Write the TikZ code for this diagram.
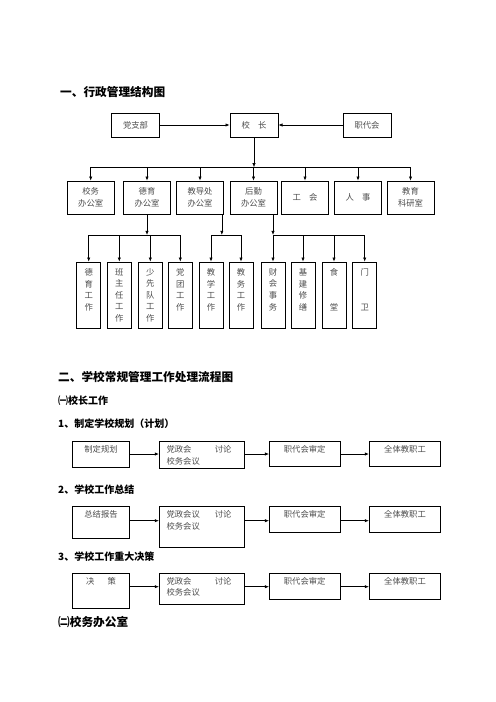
\documentclass[tikz,border=0pt]{standalone}
\usepackage{fontspec}
\setmainfont{Noto Sans CJK SC}
\usetikzlibrary{arrows.meta}

\tikzset{
  box/.style={draw, line width=0.8pt, inner sep=0pt, align=center,
    text=black!70, font=\fontsize{10}{14}\selectfont},
  topbox/.style={box, minimum width=57.6pt, minimum height=28.8pt},
  unitbox/.style={box, minimum width=56.4pt, minimum height=39.6pt},
  colbox/.style={box, minimum width=28.8pt, minimum height=79.2pt,
    font=\fontsize{10}{13.8}\selectfont},
  flow/.style={draw, line width=0.8pt, anchor=north, inner sep=0pt},
  flowtext/.style={anchor=north, inner sep=0pt, yshift=-5pt, text=black!70,
    font=\fontsize{10}{14}\selectfont},
  link/.style={line width=0.8pt, -{Latex[length=5pt,width=4pt]}},
  bar/.style={line width=0.8pt},
  head/.style={anchor=west, inner sep=0pt, font=\bfseries\fontsize{14}{16}\selectfont},
  subhead/.style={head, font=\bfseries\fontsize{12}{14}\selectfont}
}

\begin{document}
\begin{tikzpicture}[x=1.2pt,y=-1.2pt]
\useasboundingbox (0,0) rectangle (496,702);

% part one
\node[head] (h1) at (60,91.7) {一、行政管理结构图};

\node[topbox] (dzb) at (135.5,125) {党支部};
\node[topbox] (xz) at (254,125) {校　长};
\node[topbox] (zdh) at (367,125) {职代会};
\draw[link] (dzb) -- (xz);
\draw[link] (zdh) -- (xz);

\node[unitbox] (xwb) at (90.7,197.5) {校务\\办公室};
\node[unitbox] (dyb) at (147,197.5) {德育\\办公室};
\node[unitbox] (jdc) at (200,197.5) {教导处\\办公室};
\node[unitbox] (hq) at (253.5,197.5) {后勤\\办公室};
\node[unitbox] (gh) at (305,197.5) {工　会};
\node[unitbox] (rs) at (358,197.5) {人　事};
\node[unitbox] (ky) at (410.5,197.5) {教育\\科研室};

\coordinate (bus1) at (0,167.3);
\draw[link] (xz.south) -- (xz.south |- bus1);
\draw[bar] (xwb.north |- bus1) -- (ky.north |- bus1);
\foreach \n in {xwb,dyb,jdc,hq,gh,rs,ky}
  \draw[link] (\n.north |- bus1) -- (\n.north);

\node[colbox] (dygz) at (88.7,295) {德\\育\\工\\作\\\mbox{}};
\node[colbox] (bzr) at (119.3,295) {班\\主\\任\\工\\作};
\node[colbox] (sxd) at (150.3,295) {少\\先\\队\\工\\作};
\node[colbox] (dtgz) at (180.3,295) {党\\团\\工\\作\\\mbox{}};
\node[colbox] (jxgz) at (211,295) {教\\学\\工\\作\\\mbox{}};
\node[colbox] (jwgz) at (241,295) {教\\务\\工\\作\\\mbox{}};
\node[colbox] (ckws) at (273,295) {财\\会\\事\\务\\\mbox{}};
\node[colbox] (jjxs) at (303,295) {基\\建\\修\\缮\\\mbox{}};
\node[colbox] (st) at (334,295) {食\\\mbox{}\\\mbox{}\\堂\\\mbox{}};
\node[colbox] (mw) at (364.7,295) {门\\\mbox{}\\\mbox{}\\卫\\\mbox{}};

\coordinate (bus2) at (0,235);
\coordinate (jdcout) at ([xshift=-2.4pt]jdc.south east);
\draw[link] (dyb.south) -- (dyb.south |- bus2);
\draw[link] (jdcout) -- (jdcout |- bus2);
\draw[link] (hq.south -| ckws.north) -- (ckws.north |- bus2);
\draw[bar] (dygz.north |- bus2) -- (dtgz.north |- bus2);
\draw[bar] (jxgz.north |- bus2) -- (jwgz.north |- bus2);
\draw[bar] (ckws.north |- bus2) -- (mw.north |- bus2);
\foreach \n in {dygz,bzr,sxd,dtgz,jxgz,jwgz,ckws,jjxs,st,mw}
  \draw[link] (\n.north |- bus2) -- (\n.north);

% part two
\node[head] (h2) at (58,377) {二、学校常规管理工作处理流程图};
\node[subhead] (h2a) at (58,401) {㈠校长工作};

% 1
\node[subhead] (h2a1) at (58,423.3) {1、制定学校规划（计划）};
\node[flow, minimum width=68pt, minimum height=30.8pt] (r1a) at (101,441) {};
\node[flow, minimum width=102pt, minimum height=32.8pt] (r1b) at (201.8,441) {};
\node[flow, minimum width=84.8pt, minimum height=30pt] (r1c) at (304.7,441) {};
\node[flow, minimum width=85.7pt, minimum height=30pt] (r1d) at (405,441) {};
\node[flowtext] (r1at) at (r1a.north) {制定规划};
\node[flowtext, anchor=north west, xshift=8.9pt, align=left] (r1bt) at (r1b.north west)
  {\makebox[58pt][l]{党政会}讨论\\校务会议};
\node[flowtext] (r1ct) at (r1c.north) {职代会审定};
\node[flowtext] (r1dt) at (r1d.north) {全体教职工};
\coordinate (row1) at (0,454);
\draw[link] (r1a.east |- row1) -- (r1b.west |- row1);
\draw[link] (r1b.east |- row1) -- (r1c.west |- row1);
\draw[link] (r1c.east |- row1) -- (r1d.west |- row1);

% 2
\node[subhead] (h2a2) at (58,490) {2、学校工作总结};
\node[flow, minimum width=68pt, minimum height=38.8pt] (r2a) at (101,506) {};
\node[flow, minimum width=102pt, minimum height=48.8pt] (r2b) at (201.8,506) {};
\node[flow, minimum width=84.8pt, minimum height=31.6pt] (r2c) at (304.7,506) {};
\node[flow, minimum width=85.7pt, minimum height=31.6pt] (r2d) at (405,506) {};
\node[flowtext] (r2at) at (r2a.north) {总结报告};
\node[flowtext, anchor=north west, xshift=8.9pt, align=left] (r2bt) at (r2b.north west)
  {\makebox[58pt][l]{党政会议}讨论\\校务会议};
\node[flowtext] (r2ct) at (r2c.north) {职代会审定};
\node[flowtext] (r2dt) at (r2d.north) {全体教职工};
\coordinate (row2) at (0,520.7);
\draw[link] (r2a.east |- row2) -- (r2b.west |- row2);
\draw[link] (r2b.east |- row2) -- (r2c.west |- row2);
\draw[link] (r2c.east |- row2) -- (r2d.west |- row2);

% 3
\node[subhead] (h2a3) at (58,556.7) {3、学校工作重大决策};
\node[flow, minimum width=68pt, minimum height=42.7pt] (r3a) at (101,572.7) {};
\node[flow, minimum width=102pt, minimum height=37.6pt] (r3b) at (201.8,572.7) {};
\node[flow, minimum width=84.8pt, minimum height=31.9pt] (r3c) at (304.7,572.7) {};
\node[flow, minimum width=85.7pt, minimum height=31.9pt] (r3d) at (405,572.7) {};
\node[flowtext] (r3at) at (r3a.north) {决\hspace{16pt}策};
\node[flowtext, anchor=north west, xshift=8.9pt, align=left] (r3bt) at (r3b.north west)
  {\makebox[58pt][l]{党政会}讨论\\校务会议};
\node[flowtext] (r3ct) at (r3c.north) {职代会审定};
\node[flowtext] (r3dt) at (r3d.north) {全体教职工};
\coordinate (row3) at (0,586.7);
\draw[link] (r3a.east |- row3) -- (r3b.west |- row3);
\draw[link] (r3b.east |- row3) -- (r3c.west |- row3);
\draw[link] (r3c.east |- row3) -- (r3d.west |- row3);

\node[head] (h2b) at (58,622) {㈡校务办公室};
\end{tikzpicture}
\end{document}
